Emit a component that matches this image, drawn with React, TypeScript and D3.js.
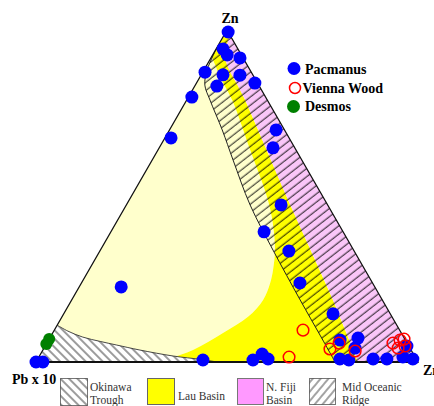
import React from 'react';
import * as d3 from 'd3';

type T = [number, number, number]; // [Pb x 10, Zn, Cu] in percent

// ---- sample data ----
const PACMANUS: T[] = [
  [0.0, 99.4, 0.6], [3.9, 94.3, 1.8], [3.7, 92.5, 3.8], [0.8, 91.6, 7.6],
  [12.1, 87.3, 0.6], [7.8, 86.4, 5.7], [3.4, 86.4, 10.2], [11.1, 83.1, 5.8],
  [0.7, 84.0, 15.3], [19.3, 79.8, 0.9], [30.9, 67.5, 1.6], [66.4, 22.6, 11.0],
  [2.2, 69.9, 27.9], [5.7, 64.5, 29.8], [12.2, 47.3, 40.5], [20.7, 39.2, 40.1],
  [17.1, 33.4, 49.5], [19.0, 23.8, 57.2], [15.0, 14.5, 70.5], [17.1, 6.6, 76.3],
  [12.1, 7.2, 80.7], [14.4, 4.2, 81.4], [20.0, 0.9, 79.1], [17.8, 0.6, 81.6],
  [11.3, 0.9, 87.8], [7.7, 0.9, 91.4], [3.2, 1.5, 95.3], [0.9, 0.9, 98.2],
  [0.5, 4.8, 94.7], [56.0, 0.6, 43.4], [42.9, 0.6, 56.5], [39.6, 2.4, 58.0],
  [38.8, 0.9, 60.3], [100, 0, 0], [98.2, 0, 1.8],
];
const VIENNA_WOOD: T[] = [
  [25.3, 9.6, 65.1], [33.0, 1.5, 65.5], [21.1, 3.9, 75.0], [17.8, 5.7, 76.5],
  [14.8, 3.3, 81.9], [3.7, 5.7, 90.6], [1.4, 6.6, 92.0], [1.0, 4.8, 94.2],
  [0.2, 6.9, 92.9], [3.1, 4.2, 92.7],
];
const DESMOS: T[] = [[94.6, 5.4, 0], [93.1, 6.9, 0]];

// ---- field boundaries ----
const LAU_EDGE: T[] = [
  [8.0, 91.9, 0.1], [8.9, 84.9, 6.2], [9.2, 78.9, 11.9], [12.0, 63.9, 24.1],
  [14.9, 48.8, 36.3], [17.3, 41.3, 41.4], [20.6, 33.7, 45.7], [24.1, 27.7, 48.2],
  [26.8, 23.8, 49.4], [31.2, 18.7, 50.1], [37.7, 13.6, 48.7], [46.7, 8.7, 44.6],
  [57.1, 3.6, 39.3], [64.3, 1.2, 34.5], [70.2, 0, 29.8],
];
const FIJI_EDGE: T[] = [
  [0.7, 97.6, 1.7], [4.7, 91.6, 3.7], [5.8, 78.9, 15.3], [9.6, 48.8, 41.6],
  [12.9, 18.7, 68.4], [15.7, 0, 84.3],
];
const RIDGE_EDGE: T[] = [
  [4.8, 95.2, 0], [11.2, 88.0, 0.8], [14.1, 83.4, 2.5], [15.0, 78.9, 6.1],
  [16.3, 69.9, 13.8], [18.0, 60.8, 21.2], [20.3, 47.3, 32.4], [21.1, 33.7, 45.2],
  [21.5, 18.7, 59.8], [21.6, 8.1, 70.3], [21.7, 0, 78.3],
];
const OKINAWA_EDGE: T[] = [
  [88.9, 11.1, 0], [87.0, 9.3, 3.7], [84.0, 7.5, 8.5], [80.1, 6.2, 13.7],
  [76.3, 5.1, 18.6], [71.0, 3.6, 25.4], [63.2, 1.8, 35.0], [56.6, 0.8, 42.6],
  [52.6, 0, 47.4],
];

const APEX_LABELS = ['Pb x 10', 'Zn', 'Zn'];
const SERIES = ['Pacmanus', 'Vienna Wood', 'Desmos'];
const FIELDS = [['Okinawa', 'Trough'], ['Lau Basin'], ['N. Fiji', 'Basin'], ['Mid Oceanic', 'Ridge']];

const PB: T = [100, 0, 0];
const ZN: T = [0, 100, 0];
const CU: T = [0, 0, 100];

const xs = d3.scaleLinear().domain([0, 100]).range([36, 418]);
const ys = d3.scaleLinear().domain([0, 100]).range([362, 30]);

function proj(p: T): [number, number] {
  const s = p[0] + p[1] + p[2];
  const zn = (p[1] / s) * 100;
  const cu = (p[2] / s) * 100;
  return [xs(cu + zn / 2), ys(zn)];
}

const curve = d3.line<T>().x(d => proj(d)[0]).y(d => proj(d)[1]).curve(d3.curveCatmullRom.alpha(0.5));
const straight = (pts: T[]) => pts.map(p => `L${proj(p)[0]},${proj(p)[1]}`).join('');

const palePath = curve(LAU_EDGE) + straight([PB]) + 'Z';
const yellowPath = curve(LAU_EDGE) + straight([...FIJI_EDGE].reverse()) + straight([ZN]) + 'Z';
const pinkPath = curve(FIJI_EDGE) + straight([CU, ZN]) + 'Z';
const okinawaPath = curve(OKINAWA_EDGE) + straight([PB]) + 'Z';
const ridgePath = curve(RIDGE_EDGE) + straight([CU, ZN]) + 'Z';
const triPath = 'M' + proj(PB).join(',') + straight([ZN, CU]) + 'Z';

const serif = '"Liberation Serif", "Times New Roman", serif';

export default function App() {
  const [pbX, pbY] = proj(PB);
  const [znX, znY] = proj(ZN);
  const [cuX, cuY] = proj(CU);
  return (
    <svg width={434} height={406} style={{ position: 'absolute', left: 0, top: 0, display: 'block' }}>
      <defs>
        <clipPath id="tri"><path d={triPath} /></clipPath>
        <pattern id="ridgeHatch" patternUnits="userSpaceOnUse" width={8} height={6.5} patternTransform="rotate(-38)">
          <line x1={0} y1={3} x2={8} y2={3} stroke="#000" strokeWidth={0.9} />
        </pattern>
        <pattern id="okiHatch" patternUnits="userSpaceOnUse" width={8} height={6} patternTransform="rotate(45)">
          <line x1={0} y1={3} x2={8} y2={3} stroke="#222" strokeWidth={0.9} />
        </pattern>
        <pattern id="ridgeHatchLeg" patternUnits="userSpaceOnUse" width={8} height={6} patternTransform="rotate(-50)">
          <line x1={0} y1={3} x2={8} y2={3} stroke="#333" strokeWidth={0.9} />
        </pattern>
      </defs>
      <rect width={434} height={406} fill="#fff" />
      <g clipPath="url(#tri)">
        <path d={palePath} fill="#FFFFCC" />
        <path d={yellowPath} fill="#FFFF00" />
        <path d={pinkPath} fill="#FAC6F8" />
        <path d={okinawaPath} fill="#fff" />
        <path d={okinawaPath} fill="url(#okiHatch)" />
        <path d={ridgePath} fill="url(#ridgeHatch)" />
        <path d={curve(OKINAWA_EDGE) || ''} fill="none" stroke="#333" strokeWidth={0.9} />
        <path d={curve(RIDGE_EDGE) || ''} fill="none" stroke="#222" strokeWidth={1} />
      </g>
      <path d={triPath} fill="none" stroke="#111" strokeWidth={1.3} />
      <line x1={pbX} y1={pbY} x2={cuX} y2={cuY} stroke="#111" strokeWidth={2} />

      {PACMANUS.map((p, i) => (
        <circle key={'p' + i} cx={proj(p)[0]} cy={proj(p)[1]} r={6.5} fill="#0000FF" />
      ))}
      {DESMOS.map((p, i) => (
        <circle key={'d' + i} cx={proj(p)[0]} cy={proj(p)[1]} r={6} fill="#008000" />
      ))}
      {VIENNA_WOOD.map((p, i) => (
        <circle key={'v' + i} cx={proj(p)[0]} cy={proj(p)[1]} r={5.8} fill="none" stroke="#FF0000" strokeWidth={1.5} />
      ))}

      <text x={znX + 3} y={znY - 7} textAnchor="middle" fontFamily={serif} fontWeight="bold" fontSize={14}>{APEX_LABELS[1]}</text>
      <text x={12} y={384} fontFamily={serif} fontWeight="bold" fontSize={14}>{APEX_LABELS[0]}</text>
      <text x={423} y={375} fontFamily={serif} fontWeight="bold" fontSize={14}>{APEX_LABELS[2]}</text>

      {/* series legend */}
      <circle cx={294} cy={68.5} r={6.5} fill="#0000FF" />
      <circle cx={295} cy={88} r={5.5} fill="none" stroke="#FF0000" strokeWidth={1.5} />
      <circle cx={293.5} cy={106.5} r={6.5} fill="#008000" />
      <text x={305} y={73.5} fontFamily={serif} fontWeight="bold" fontSize={14}>{SERIES[0]}</text>
      <text x={302.5} y={92.5} fontFamily={serif} fontWeight="bold" fontSize={14}>{SERIES[1]}</text>
      <text x={305} y={111} fontFamily={serif} fontWeight="bold" fontSize={14}>{SERIES[2]}</text>

      {/* field legend */}
      <rect x={60.5} y={378.5} width={27} height={27} fill="#fff" stroke="#777" />
      <rect x={60.5} y={378.5} width={27} height={27} fill="url(#okiHatch)" />
      <rect x={147.5} y={378.5} width={27} height={26} fill="#FFFF00" stroke="#666" />
      <rect x={237.5} y={378.5} width={26} height={26} fill="#FF99FF" stroke="#777" />
      <rect x={309.5} y={378.5} width={26} height={26} fill="#fff" stroke="#777" />
      <rect x={309.5} y={378.5} width={26} height={26} fill="url(#ridgeHatchLeg)" />
      <g fontFamily={serif} fontSize={11.5} fill="#333">
        <text x={90} y={390.5}>{FIELDS[0][0]}</text>
        <text x={90} y={403.5}>{FIELDS[0][1]}</text>
        <text x={178} y={400}>{FIELDS[1][0]}</text>
        <text x={266} y={390.5}>{FIELDS[2][0]}</text>
        <text x={266} y={403.5}>{FIELDS[2][1]}</text>
        <text x={342} y={390.5}>{FIELDS[3][0]}</text>
        <text x={342} y={403.5}>{FIELDS[3][1]}</text>
      </g>
    </svg>
  );
}
